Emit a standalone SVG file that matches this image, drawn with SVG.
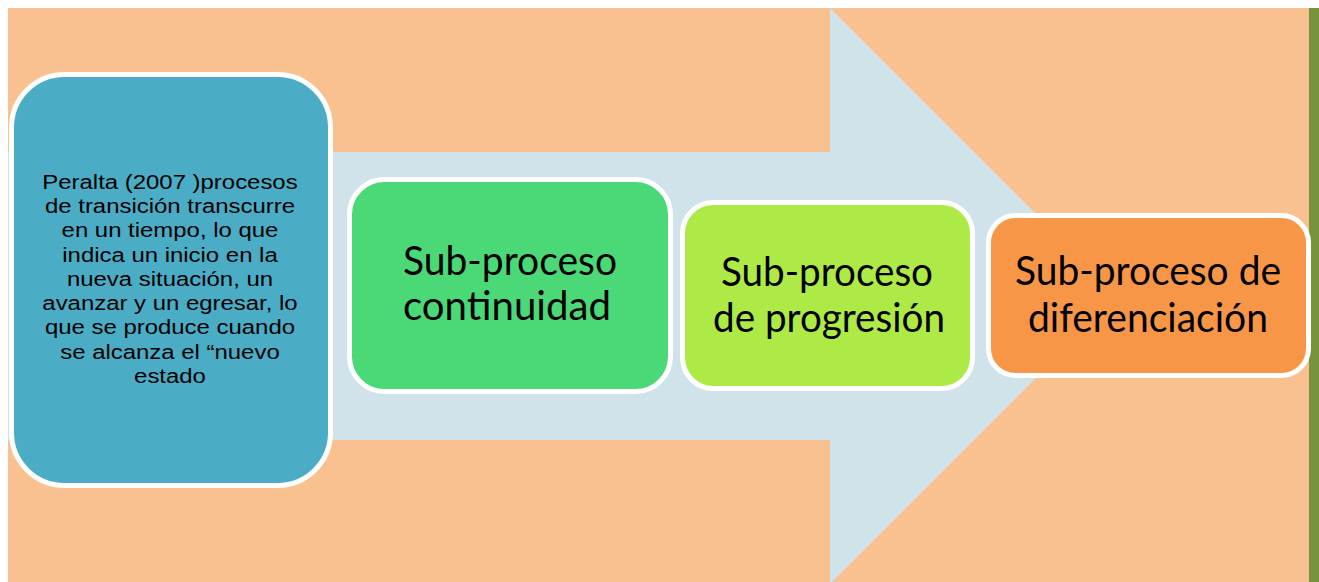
<svg xmlns="http://www.w3.org/2000/svg" width="1319" height="582" viewBox="0 0 1319 582">
<style>
.box{stroke:#FFFFFF;stroke-width:5}
.big{font-family:Lato,"Liberation Sans",sans-serif;font-size:40px;fill:#000;text-anchor:middle}
.small{font-family:"Liberation Sans",Arial,sans-serif;font-size:21px;fill:#000;text-anchor:middle}
</style>
<rect x="0" y="0" width="1319" height="582" fill="#FFFFFF"/>
<rect x="8" y="8" width="1301" height="574" fill="#F9C190"/>
<rect x="1309" y="8" width="10" height="574" fill="#77933C"/>
<g id="arrow">
<polygon points="8,152 830,152 830,8 1118,296 830,584 830,440 8,440" fill="#D0E3EA"/>
</g>
<g id="node-peralta">
<rect class="box" x="11.5" y="74.5" width="319" height="411" rx="53" ry="53" fill="#4BACC6"/>
<g transform="translate(170,0) scale(1.14,1) translate(-170,0)">
<text class="small" x="170" y="189">Peralta (2007 )procesos</text>
<text class="small" x="170" y="213.25">de transición transcurre</text>
<text class="small" x="170" y="237.5">en un tiempo, lo que</text>
<text class="small" x="170" y="261.75">indica un inicio en la</text>
<text class="small" x="170" y="286">nueva situación, un</text>
<text class="small" x="170" y="310.25">avanzar y un egresar, lo</text>
<text class="small" x="170" y="334.5">que se produce cuando</text>
<text class="small" x="170" y="358.75">se alcanza el “nuevo</text>
<text class="small" x="170" y="383">estado</text>
</g>
</g>
<g id="node-continuidad">
<rect class="box" x="349.5" y="179.5" width="321" height="212" rx="35" ry="35" fill="#4AD976"/>
<text class="big" x="510" y="275" textLength="214" lengthAdjust="spacingAndGlyphs">Sub-proceso</text>
<text class="big" x="507" y="320" textLength="208" lengthAdjust="spacingAndGlyphs">continuidad</text>
</g>
<g id="node-progresion">
<rect class="box" x="682.5" y="202.5" width="290" height="186" rx="31" ry="31" fill="#AEEA46"/>
<text class="big" x="827" y="286" textLength="212" lengthAdjust="spacingAndGlyphs">Sub-proceso</text>
<text class="big" x="829" y="332" textLength="232" lengthAdjust="spacingAndGlyphs">de progresión</text>
</g>
<g id="node-diferenciacion">
<rect class="box" x="988.5" y="215.5" width="320" height="160" rx="27" ry="27" fill="#F79646"/>
<text class="big" x="1148" y="285" textLength="266" lengthAdjust="spacingAndGlyphs">Sub-proceso de</text>
<text class="big" x="1148" y="332" textLength="240" lengthAdjust="spacingAndGlyphs">diferenciación</text>
</g>
</svg>
